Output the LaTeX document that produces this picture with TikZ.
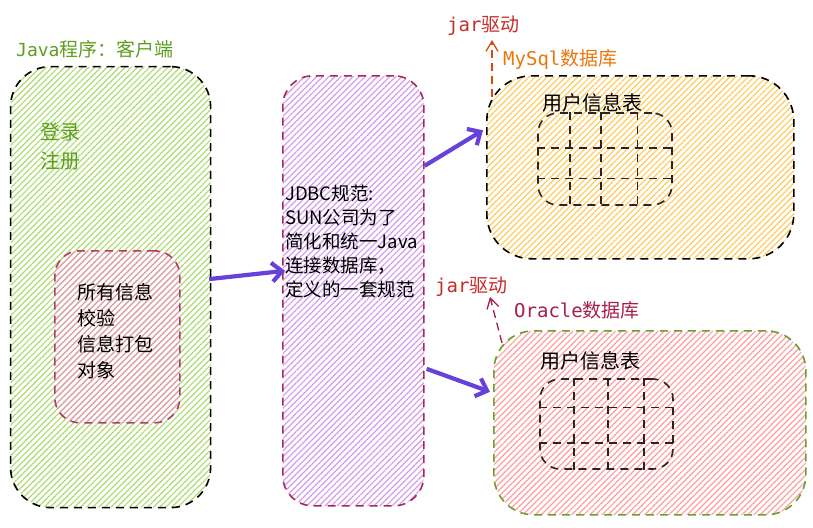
\documentclass[tikz,border=0pt]{standalone}
\usepackage{fontspec}
\setmainfont{Noto Sans CJK SC}
\newfontfamily\monof{DejaVu Sans Mono}
\usetikzlibrary{patterns.meta,arrows.meta,calc}
\definecolor{ghatch}{HTML}{ADDC72}
\definecolor{phatch}{HTML}{E79AB0}
\definecolor{vhatch}{HTML}{D59CEC}
\definecolor{ohatch}{HTML}{FFCB5E}
\definecolor{rhatch}{HTML}{FF9E9E}
\definecolor{gtext}{HTML}{5E9E1E}
\definecolor{otext}{HTML}{E8770E}
\definecolor{jtext}{HTML}{C92A2A}
\definecolor{ortext}{HTML}{A61E4D}
\definecolor{pborder}{HTML}{B33A66}
\definecolor{vborder}{HTML}{A8285A}
\definecolor{gborder}{HTML}{6A9E2E}
\definecolor{arrv}{HTML}{6741D9}
\definecolor{darr1}{HTML}{D9480F}
\tikzset{
  box/.style={draw, line width=1.6pt, dash pattern=on 8pt off 6pt, anchor=north west, inner sep=0pt},
  hatch/.style={pattern={Lines[angle=45,distance=4.3pt,line width=1.2pt]}, pattern color=#1},
  txt/.style={inner sep=0pt, anchor=west, align=left, font=\fontsize{19}{26}\selectfont},
  varr/.style={draw=arrv, line width=4.2pt, -{Straight Barb[length=10pt,width=19pt]}},
  darrow/.style={draw=#1, line width=1.3pt, dash pattern=on 8pt off 5pt, -{Straight Barb[length=10pt,width=12pt]}},
  gridbox/.style={draw=black!85, line width=1.6pt, dash pattern=on 8pt off 6pt, rounded corners=20pt, inner sep=0pt},
  gridl/.style={draw=black!85, line width=1.6pt, dash pattern=on 8pt off 6pt}
}
\begin{document}
\begin{tikzpicture}[x=1pt,y=-1pt]
\useasboundingbox (0,0) rectangle (813,527);
% boxes
\node[box, hatch=ghatch, rounded corners=40pt, minimum width=200pt, minimum height=441pt] (java) at (10,66) {};
\node[box, draw=pborder, hatch=phatch, rounded corners=25pt, minimum width=125pt, minimum height=172pt] (inner) at (54,250) {};
\node[box, draw=vborder, hatch=vhatch, rounded corners=30pt, minimum width=141pt, minimum height=430pt] (jdbc) at (282,75) {};
\node[box, hatch=ohatch, rounded corners=45pt, minimum width=307pt, minimum height=183pt] (mysql) at (486,75) {};
\node[box, draw=gborder, hatch=rhatch, rounded corners=40pt, minimum width=312pt, minimum height=184pt] (oracle) at (493,330) {};
% texts
\node[txt, text=gtext] (title) at (16,49) {{\monof\fontsize{18}{26}\selectfont Java}程序：客户端};
\node[txt, text=gtext, font=\fontsize{20}{29}\selectfont] (login) at (40,146) {登录\\注册};
\node[txt] (info) at (77,331) {所有信息\\校验\\信息打包\\对象};
\node[txt, font=\fontsize{18.5}{24}\selectfont] (spec) at (285,241) {JDBC规范:\\SUN公司为了\\简化和统一Java\\连接数据库，\\定义的一套规范};
\node[txt, text=otext] (mysqll) at (503,60) {{\monof MySql}数据库};
\node[txt, text=jtext] (jar1) at (447,26) {{\monof jar}驱动};
\node[txt, text=ortext] (oraclel) at (514,310) {{\monof Oracle}数据库};
\node[txt, text=jtext] (jar2) at (435,287) {{\monof jar}驱动};
\node[txt, font=\fontsize{20}{26}\selectfont] (ut1) at (542,103) {用户信息表};
\node[txt, font=\fontsize{20}{26}\selectfont] (ut2) at (540,361) {用户信息表};
% grids
\node[gridbox, minimum width=134pt, minimum height=92pt] (t1) at (605,159) {};
\foreach \f in {0.24,0.47,0.74}
  \draw[gridl] ($(t1.north west)!\f!(t1.north east)$) -- ($(t1.south west)!\f!(t1.south east)$);
\foreach \f in {0.38,0.71}
  \draw[gridl] ($(t1.north west)!\f!(t1.south west)$) -- ($(t1.north east)!\f!(t1.south east)$);
\node[gridbox, minimum width=133pt, minimum height=90pt] (t2) at (606.5,424) {};
\foreach \f in {0.26,0.51,0.78}
  \draw[gridl] ($(t2.north west)!\f!(t2.north east)$) -- ($(t2.south west)!\f!(t2.south east)$);
\foreach \f in {0.32,0.71}
  \draw[gridl] ($(t2.north west)!\f!(t2.south west)$) -- ($(t2.north east)!\f!(t2.south east)$);
% arrows
\draw[varr] ([xshift=-2pt,yshift=8pt]java.east) -- ([xshift=3pt,yshift=20pt]jdbc.west);
\draw[varr] ([yshift=125pt]jdbc.east) -- ([xshift=-3pt,yshift=37pt]mysql.west);
\draw[varr] ([xshift=2pt,yshift=-78pt]jdbc.east) -- ([xshift=-3pt,yshift=31pt]oracle.west);
\draw[darrow=darr1] ([xshift=6pt,yshift=-22pt]mysql.north west) -- ([xshift=45pt,yshift=-14pt]jar1.west);
\draw[darrow=ortext] ([xshift=9pt,yshift=-13pt]oracle.north west) -- ([xshift=55pt,yshift=-10pt]jar2.west);
\end{tikzpicture}
\end{document}
